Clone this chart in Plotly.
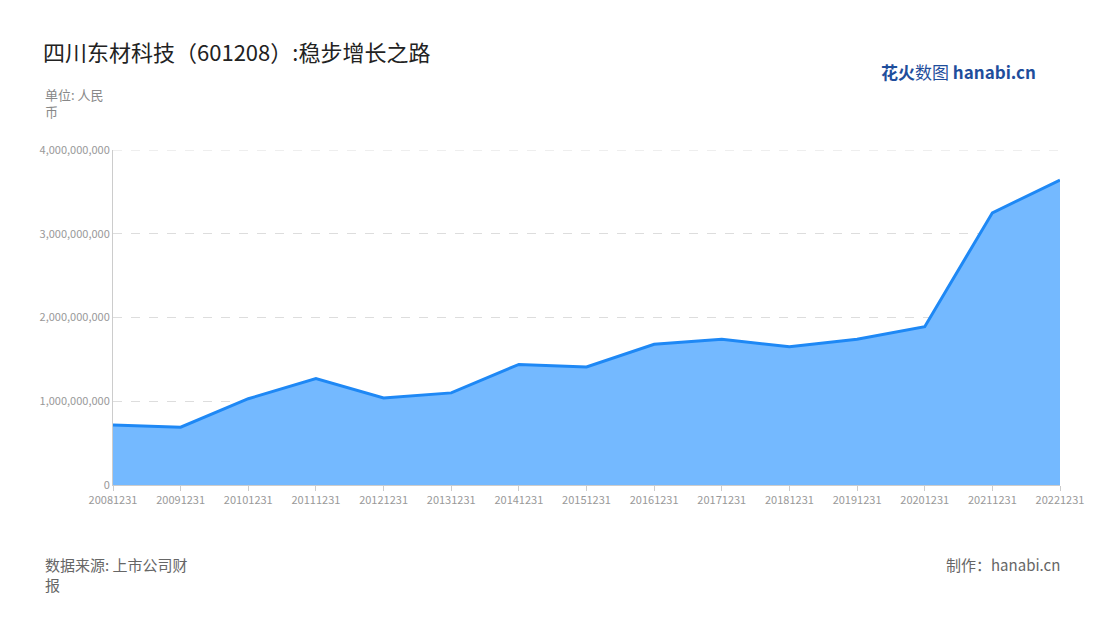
import plotly.graph_objects as go

dates = ["20081231", "20091231", "20101231", "20111231", "20121231", "20131231",
         "20141231", "20151231", "20161231", "20171231", "20181231", "20191231",
         "20201231", "20211231", "20221231"]
revenue = [716e6, 690e6, 1030e6, 1270e6, 1040e6, 1100e6, 1440e6, 1410e6,
           1680e6, 1740e6, 1650e6, 1740e6, 1890e6, 3250e6, 3640e6]
tick_vals = [0, 1e9, 2e9, 3e9, 4e9]
tick_text = ["0", "1,000,000,000", "2,000,000,000", "3,000,000,000", "4,000,000,000"]

font = "Noto Sans CJK SC"
# page body adds an 8px offset, so layout coordinates are shifted back by it
OFF = 8
L, R, T, B = 113 - OFF, 1100 - 1060 + OFF, 150 - OFF, 620 - 485 + OFF

fig = go.Figure()
fig.add_trace(go.Scatter(
    x=dates, y=revenue, mode="lines", fill="tozeroy",
    fillcolor="rgba(116,185,255,1)",
    line=dict(color="#1e88f5", width=3),
))
# top gridline sits on the plot edge and plotly drops it, so draw it explicitly
fig.add_hline(y=tick_vals[-1], line=dict(color="#ddd", width=1, dash="dash"), layer="below")

pw, ph = 1100 - L - R, 620 - T - B
def px(x): return (x - OFF - L) / pw
def py(y): return (620 - B - (y - OFF)) / ph

fig.update_layout(
    width=1100, height=620,
    margin=dict(l=L, r=R, t=T, b=B),
    paper_bgcolor="white", plot_bgcolor="white",
    showlegend=False,
    font=dict(family=font),
    title=dict(text="四川东材科技（601208）:稳步增长之路", x=(43 - OFF) / 1100,
               xanchor="left", y=1 - (53 - OFF) / 620, yanchor="middle",
               font=dict(size=22, color="#222", family=font)),
    xaxis=dict(type="category", showgrid=False, showline=True, linecolor="#ccc",
               ticks="outside", tickcolor="#ccc", range=[0, 14],
               tickfont=dict(size=11, color="#999")),
    yaxis=dict(range=[0, 4e9], tickvals=tick_vals, ticktext=tick_text,
               showgrid=True, gridcolor="#ddd", griddash="dash",
               showline=True, linecolor="#ccc", zeroline=False,
               tickfont=dict(size=11, color="#999")),
    annotations=[
        dict(text="单位: 人民<br>币", x=px(43), y=py(83), xref="paper", yref="paper",
             xanchor="left", yanchor="top", align="left", showarrow=False,
             font=dict(size=13, color="#888")),
        dict(text="数据来源: 上市公司财<br>报", x=px(43), y=py(552), xref="paper", yref="paper",
             xanchor="left", yanchor="top", align="left", showarrow=False,
             font=dict(size=15, color="#666")),
        dict(text="制作：hanabi.cn", x=px(1062), y=py(552), xref="paper", yref="paper",
             xanchor="right", yanchor="top", showarrow=False,
             font=dict(size=15, color="#666")),
        dict(text="<b>花火</b>数图 <b>hanabi.cn</b>", x=px(1038), y=py(57), xref="paper",
             yref="paper", xanchor="right", yanchor="top", showarrow=False,
             font=dict(size=17, color="#1f4e9c")),
    ],
)

fig.write_html("out.html")
